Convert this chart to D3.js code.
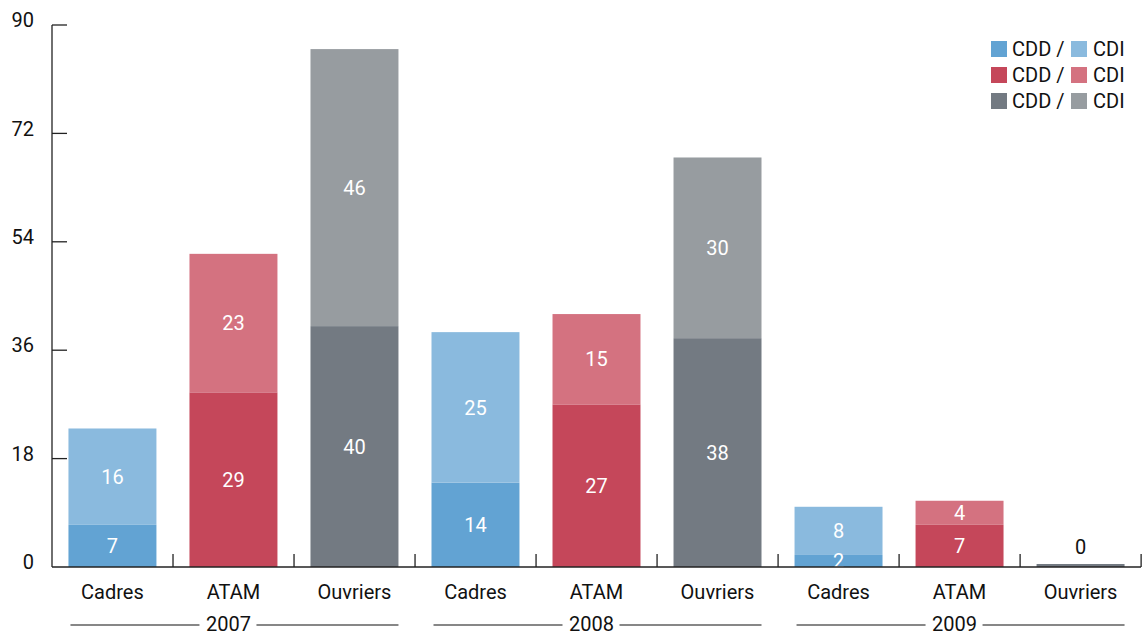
<!DOCTYPE html>
<html><head><meta charset="utf-8">
<script src="https://cdn.jsdelivr.net/npm/d3@7"></script>
<style>body{margin:0;background:#fff}svg{display:block}text{font-family:Roboto,"Open Sans",sans-serif}</style>
</head><body><svg id="c" width="1144" height="637"></svg>
<script>
const years = ["2007","2008","2009"];
const categories = ["Cadres","ATAM","Ouvriers"];
const cdd = [7,29,40, 14,27,38, 2,7,0];
const cdi = [16,23,46, 25,15,30, 8,4,0];
const yTicks = [0,18,36,54,72,90];
const colorsCDD = ["#62a3d3","#c5475a","#737a82"];
const colorsCDI = ["#8abade","#d47280","#979ca0"];
const legendLabels = ["CDD /","CDI"];

const svg = d3.select("#c");
const FS = 20;
const y0=567, yTop=25;
const keys = [];
years.forEach(yr=>categories.forEach(c=>keys.push(yr+"|"+c)));
const x = d3.scaleBand().domain(keys).range([52,1141]).paddingInner(0.273).paddingOuter(0.136);
const y = d3.scaleLinear().domain([0,90]).range([y0,yTop]);
const step = x.step();

svg.append("defs").append("clipPath").attr("id","plot").append("rect")
  .attr("x",52).attr("y",0).attr("width",1100).attr("height",y0);

const data = keys.map((k,i)=>({k, ci:i%3, cdd:cdd[i], cdi:cdi[i]}));
const g = svg.append("g");
data.forEach(d=>{
  const bx=x(d.k), bw=x.bandwidth();
  if(d.cdd+d.cdi===0){
    g.append("rect").attr("x",bx).attr("y",y0-3).attr("width",bw).attr("height",3).attr("fill",colorsCDD[d.ci]);
    g.append("text").attr("x",bx+bw/2).attr("y",y(0)-20).attr("dy","0.36em").attr("text-anchor","middle")
      .attr("font-size",FS).attr("fill","#111").text("0");
    return;
  }
  g.append("rect").attr("x",bx).attr("y",y(d.cdd)).attr("width",bw).attr("height",y(0)-y(d.cdd)).attr("fill",colorsCDD[d.ci]);
  g.append("rect").attr("x",bx).attr("y",y(d.cdd+d.cdi)).attr("width",bw).attr("height",y(d.cdd)-y(d.cdd+d.cdi)).attr("fill",colorsCDI[d.ci]);
  g.append("text").attr("clip-path","url(#plot)").attr("x",bx+bw/2).attr("y",(y(0)+y(d.cdd))/2).attr("dy","0.36em")
    .attr("text-anchor","middle").attr("font-size",FS).attr("fill","#fff").text(d.cdd);
  g.append("text").attr("x",bx+bw/2).attr("y",(y(d.cdd)+y(d.cdd+d.cdi))/2).attr("dy","0.36em")
    .attr("text-anchor","middle").attr("font-size",FS).attr("fill","#fff").text(d.cdi);
});

// y axis
const ya = svg.append("g");
ya.append("line").attr("x1",52).attr("x2",52).attr("y1",yTop).attr("y2",y0).attr("stroke","#222").attr("stroke-width",1.3);
yTicks.forEach(t=>{
  if(t>0) ya.append("line").attr("x1",52).attr("x2",67).attr("y1",y(t)).attr("y2",y(t)).attr("stroke","#222").attr("stroke-width",1.3);
  ya.append("text").attr("x",34).attr("y",y(t)-5).attr("dy","0.36em").attr("text-anchor","end")
    .attr("font-size",FS).attr("fill","#111").text(t);
});
// x axis
const xa = svg.append("g");
xa.append("line").attr("x1",52).attr("x2",1141).attr("y1",y0).attr("y2",y0).attr("stroke","#222").attr("stroke-width",1.3);
for(let i=1;i<=keys.length;i++){
  const xx = 52+i*step;
  xa.append("line").attr("x1",xx).attr("x2",xx).attr("y1",y0).attr("y2",y0-13).attr("stroke","#222").attr("stroke-width",1.3);
}
data.forEach(d=>{
  xa.append("text").attr("x",x(d.k)+x.bandwidth()/2).attr("y",592).attr("dy","0.36em").attr("text-anchor","middle")
    .attr("font-size",FS).attr("fill","#111").text(categories[d.ci]);
});
years.forEach((yr,yi)=>{
  const a = x(yr+"|"+categories[0]), b = x(yr+"|"+categories[2])+x.bandwidth();
  const cx=(a+b)/2;
  xa.append("line").attr("x1",a+2).attr("x2",cx-34).attr("y1",625).attr("y2",625).attr("stroke","#111").attr("stroke-width",1.2);
  xa.append("line").attr("x1",cx+23).attr("x2",b).attr("y1",625).attr("y2",625).attr("stroke","#111").attr("stroke-width",1.2);
  xa.append("text").attr("x",cx-5).attr("y",624).attr("dy","0.36em").attr("text-anchor","middle")
    .attr("font-size",FS).attr("fill","#111").text(yr);
});

// legend
const lg = svg.append("g");
[0,1,2].forEach(r=>{
  const cy = 49+r*26;
  lg.append("rect").attr("x",991).attr("y",cy-8).attr("width",16).attr("height",16).attr("fill",colorsCDD[r]);
  lg.append("text").attr("x",1012).attr("y",cy).attr("dy","0.36em").attr("font-size",FS).attr("fill","#111").text(legendLabels[0]);
  lg.append("rect").attr("x",1071).attr("y",cy-8).attr("width",16).attr("height",16).attr("fill",colorsCDI[r]);
  lg.append("text").attr("x",1093).attr("y",cy).attr("dy","0.36em").attr("font-size",FS).attr("fill","#111").text(legendLabels[1]);
});
</script></body></html>
